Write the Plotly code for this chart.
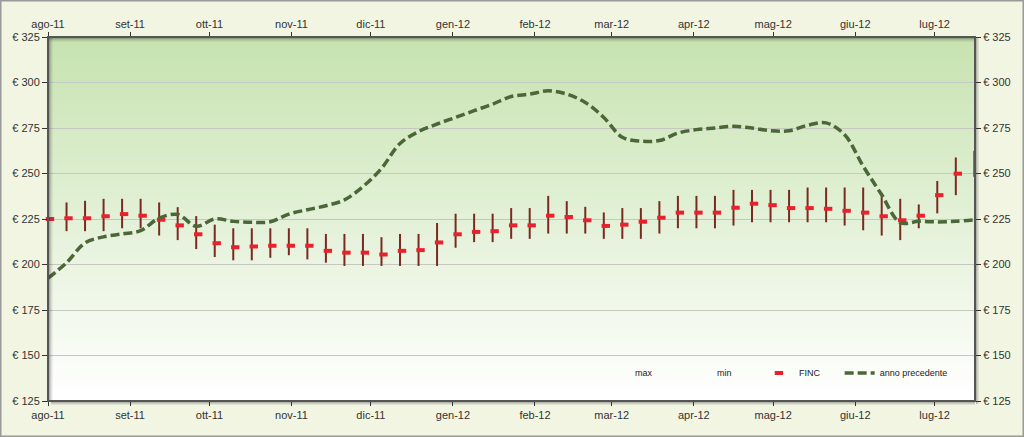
import pandas as pd
import plotly.graph_objects as go

# ---------------- data ----------------
start_week = "2011-08-01"
n_weeks = 51
weeks = pd.date_range(start_week, periods=n_weeks, freq="7D")

max_vals = [232.8, 234.1, 235.0, 236.1, 236.1, 236.1, 234.1, 231.5, 226.6, 221.9,
            219.9, 219.9, 219.9, 219.9, 219.9, 216.8, 216.8, 216.8, 215.0, 216.8,
            216.8, 222.8, 227.9, 227.9, 227.9, 231.0, 231.0, 237.7, 234.8, 231.7,
            228.6, 231.0, 231.0, 234.8, 237.7, 237.7, 237.7, 241.0, 241.0, 241.0,
            241.0, 242.3, 242.3, 242.3, 242.3, 239.2, 236.1, 233.0, 245.9, 258.8,
            262.5]
min_vals = [218.3, 218.3, 218.3, 218.3, 219.9, 219.9, 215.9, 213.4, 208.5, 204.1,
            202.3, 202.3, 203.7, 205.1, 202.8, 201.0, 199.2, 199.2, 199.2, 199.2,
            199.2, 199.2, 209.2, 212.3, 212.3, 214.1, 214.1, 217.0, 217.0, 217.0,
            214.1, 214.1, 214.1, 217.0, 219.9, 219.9, 219.9, 221.4, 223.2, 223.2,
            223.2, 223.2, 223.2, 221.4, 218.8, 215.9, 213.4, 219.9, 228.1, 238.1,
            248.2]
finc_vals = [225.0, 225.4, 225.4, 226.5, 227.7, 226.8, 224.6, 221.5, 216.6, 211.7,
             209.5, 209.9, 210.3, 210.3, 210.3, 207.5, 206.5, 206.5, 205.5, 207.5,
             207.9, 212.1, 216.6, 217.9, 218.3, 221.5, 221.5, 226.8, 226.1, 224.3,
             221.2, 221.9, 223.5, 225.7, 228.5, 228.5, 228.5, 231.2, 233.4, 232.6,
             231.0, 231.0, 230.6, 229.5, 228.5, 226.5, 224.3, 226.8, 238.1, 249.9,
             253.7]
prev_year = [192.5, 201.0, 211.9, 215.2, 216.8, 218.6, 225.5, 227.5, 221.0, 225.0,
             223.7, 223.2, 223.5, 227.7, 230.1, 232.3, 235.5, 242.8, 252.8, 266.5,
             273.0, 277.2, 280.8, 284.5, 288.1, 292.3, 293.6, 295.4, 293.6, 289.0,
             280.8, 269.9, 267.8, 268.1, 272.2, 274.1, 275.0, 275.9, 275.0, 273.5,
             273.5, 276.5, 277.8, 271.3, 254.0, 238.3, 223.0, 223.7, 223.4, 223.7,
             224.6]

month_ticks = pd.date_range("2011-08-01", periods=12, freq="MS")
month_labels = ["ago-11", "set-11", "ott-11", "nov-11", "dic-11", "gen-12",
                "feb-12", "mar-12", "apr-12", "mag-12", "giu-12", "lug-12"]
y_ticks = [125, 150, 175, 200, 225, 250, 275, 300, 325]
y_labels = ["€ " + str(v) for v in y_ticks]

# ---------------- figure ----------------
fig = go.Figure()

# hi-lo lines
hx, hy = [], []
for d, lo, hi in zip(weeks, min_vals, max_vals):
    hx += [d, d, None]
    hy += [lo, hi, None]
fig.add_trace(go.Scatter(x=hx, y=hy, mode="lines", line=dict(color="#7a2a20", width=2),
                         showlegend=False, hoverinfo="skip"))

fig.add_trace(go.Scatter(x=weeks, y=max_vals, mode="markers", name="max",
                         marker=dict(size=1, color="rgba(0,0,0,0)")))
fig.add_trace(go.Scatter(x=weeks, y=min_vals, mode="markers", name="min",
                         marker=dict(size=1, color="rgba(0,0,0,0)")))

finc_x = weeks + pd.Timedelta(hours=18)
fig.add_trace(go.Scatter(x=finc_x, y=finc_vals, mode="markers", name="FINC",
                         cliponaxis=False,
                         marker=dict(symbol="line-ew", size=6,
                                     line=dict(color="#e8222c", width=4))))

fig.add_trace(go.Scatter(x=weeks, y=prev_year, mode="lines", name="anno precedente",
                         legend="legend2",
                         line=dict(color="#4b6637", width=3.5, dash="9px,4px",
                                   shape="spline", smoothing=1.0)))

# hidden trace to activate secondary axes
fig.add_trace(go.Scatter(x=weeks, y=prev_year, xaxis="x2", yaxis="y2", mode="lines",
                         line=dict(color="rgba(0,0,0,0)"), showlegend=False,
                         hoverinfo="skip"))

# plot-area gradient (green top -> white bottom)
shapes = []
N = 70
top = (199, 227, 176)
bot = (255, 255, 255)
for i in range(N):
    t = i / (N - 1)
    c = tuple(int(round(top[k] + (bot[k] - top[k]) * t)) for k in range(3))
    y1 = 1 - i / N
    y0 = 1 - (i + 1) / N
    shapes.append(dict(type="rect", xref="paper", yref="paper", x0=0, x1=1,
                       y0=y0, y1=y1 + 0.002, layer="below", line=dict(width=0),
                       fillcolor="rgb(%d,%d,%d)" % c))
# inner shadow on left/top
for k, a in enumerate([0.35, 0.22, 0.12, 0.06]):
    shapes.append(dict(type="line", xref="paper", yref="paper",
                       x0=(k + 1.5) / 927, x1=(k + 1.5) / 927, y0=0, y1=1,
                       line=dict(color="rgba(40,40,40,%s)" % a, width=1), layer="above"))
    shapes.append(dict(type="line", xref="paper", yref="paper",
                       x0=0, x1=1, y0=1 - (k + 1.5) / 364, y1=1 - (k + 1.5) / 364,
                       line=dict(color="rgba(40,40,40,%s)" % a, width=1), layer="above"))
# plot frame
shapes.append(dict(type="rect", xref="paper", yref="paper", x0=0, x1=1, y0=0, y1=1,
                   line=dict(color="#555555", width=2), layer="above"))
# outer shadow right/bottom
for k, a in enumerate([0.35, 0.2, 0.1]):
    shapes.append(dict(type="line", xref="paper", yref="paper",
                       x0=1 + (k + 1.5) / 927, x1=1 + (k + 1.5) / 927, y0=-3 / 364, y1=1,
                       line=dict(color="rgba(60,60,60,%s)" % a, width=1), layer="above"))
    shapes.append(dict(type="line", xref="paper", yref="paper",
                       x0=3 / 927, x1=1, y0=-(k + 1.5) / 364, y1=-(k + 1.5) / 364,
                       line=dict(color="rgba(60,60,60,%s)" % a, width=1), layer="above"))
# outer image border
shapes.append(dict(type="rect", xref="paper", yref="paper",
                   x0=-47.5 / 927, x1=1 + 48.5 / 927, y0=-35.5 / 364, y1=1 + 36.5 / 364,
                   line=dict(color="#9a9a9a", width=2), layer="below",
                   fillcolor="rgba(0,0,0,0)"))

axis_font = dict(family="Liberation Sans, Arial, sans-serif", size=11, color="#333333")
legend_font = dict(family="Liberation Sans, Arial, sans-serif", size=9, color="#222222")
xr = ["2011-08-01", "2012-07-16 06:00"]
common_x = dict(range=xr, tickvals=list(month_ticks), ticktext=month_labels,
                ticks="outside", ticklen=4, tickcolor="#333333", showgrid=False,
                zeroline=False, showline=False, tickfont=axis_font)
common_y = dict(range=[125, 325], tickvals=y_ticks, ticktext=y_labels,
                ticks="outside", ticklen=5, tickcolor="#333333", zeroline=False,
                showline=False, tickfont=axis_font)

fig.update_layout(
    width=1024, height=437,
    margin=dict(l=48, r=49, t=37, b=36),
    paper_bgcolor="#f1f5e2",
    plot_bgcolor="rgba(0,0,0,0)",
    xaxis=dict(**common_x, side="bottom"),
    xaxis2=dict(**common_x, side="top", overlaying="x", matches="x"),
    yaxis=dict(**common_y, side="left", showgrid=True, gridcolor="#c4c8c0", gridwidth=1),
    yaxis2=dict(**common_y, side="right", overlaying="y", matches="y", showgrid=False),
    shapes=shapes,
    showlegend=True,
    legend=dict(orientation="h", x=0.59, y=0.077, xanchor="left", yanchor="middle",
                bgcolor="rgba(0,0,0,0)", font=legend_font,
                entrywidth=37, itemwidth=30, traceorder="normal"),
    legend2=dict(orientation="h", x=0.854, y=0.077, xanchor="left", yanchor="middle",
                 bgcolor="rgba(0,0,0,0)", font=legend_font, itemwidth=30),
    hovermode=False,
)

fig.write_html("out.html")
